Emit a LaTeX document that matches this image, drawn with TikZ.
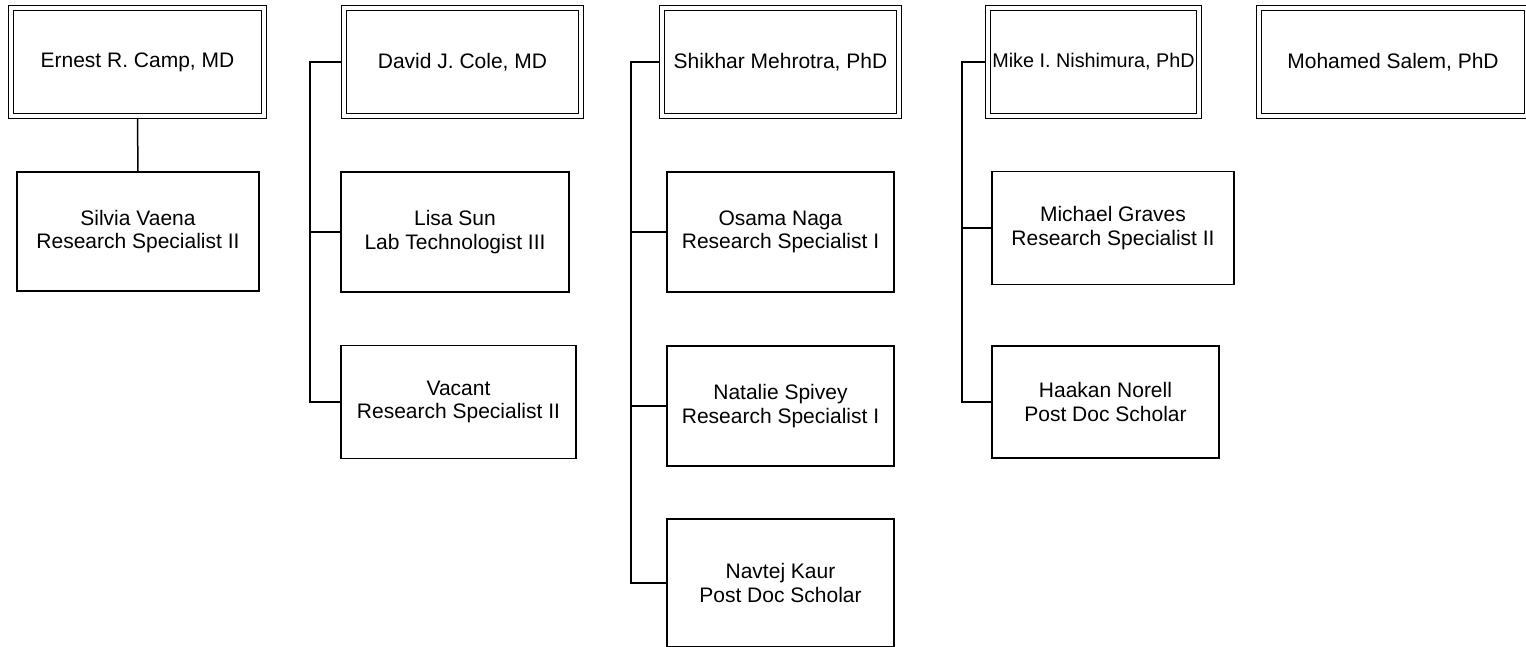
\documentclass[tikz,border=0pt]{standalone}
\usepackage{fontspec}
\setmainfont{Liberation Sans}
\usetikzlibrary{backgrounds}

\begin{document}
\begin{tikzpicture}
        [
            x=1pt,y=-1pt,
            head/.style={rectangle,draw=black,fill=white,line width=1.3pt,double,double distance=3.6pt,
                minimum height=108pt,inner sep=0pt,align=center,font=\fontsize{21}{23.5}\selectfont},
            staff/.style={rectangle,draw=black,fill=white,line width=1.7pt,
                inner sep=2pt,align=center,font=\fontsize{21}{23.5}\selectfont},
            link/.style={line width=1.5pt},
        ]
    \useasboundingbox (0,0) rectangle (1526,646);
    \clip (0,0) rectangle (1526,646);

    % heads
    \node[head,minimum width=253pt] (camp) at (137.5,62) {Ernest R. Camp, MD};
    \node[head,minimum width=237pt] (cole) at (462.5,62) {David J. Cole, MD};
    \node[head,minimum width=237pt] (mehrotra) at (780.5,62) {Shikhar Mehrotra, PhD};
    \node[head,minimum width=211pt,font=\fontsize{19.8}{23.5}\selectfont] (nishimura) at (1093.5,62) {Mike I. Nishimura, PhD};
    \node[head,minimum width=268pt] (salem) at (1393,62) {Mohamed Salem, PhD};

    % staff
    \node[staff,minimum width=242pt,minimum height=119pt] (vaena) at (138,231.5) {Silvia Vaena\\Research Specialist II};
    \node[staff,minimum width=228pt,minimum height=120pt] (sun) at (455,232) {Lisa Sun\\Lab Technologist III};
    \node[staff,minimum width=235pt,minimum height=113pt] (vacant) at (458.5,402) {Vacant\\Research Specialist II};
    \node[staff,minimum width=227pt,minimum height=120pt] (naga) at (780.5,232) {Osama Naga\\Research Specialist I};
    \node[staff,minimum width=227pt,minimum height=120pt] (spivey) at (780.5,406) {Natalie Spivey\\Research Specialist I};
    \node[staff,minimum width=227pt,minimum height=128pt] (kaur) at (780.5,583) {Navtej Kaur\\Post Doc Scholar};
    \node[staff,minimum width=242pt,minimum height=113pt] (graves) at (1113,228) {Michael Graves\\Research Specialist II};
    \node[staff,minimum width=227pt,minimum height=112pt] (norell) at (1105.5,402) {Haakan Norell\\Post Doc Scholar};

    \coordinate (colebus) at (310,62);
    \coordinate (mehrotrabus) at (631,62);
    \coordinate (nishimurabus) at (962,62);

    \begin{scope}[on background layer]
    \draw[link] (camp) -- (vaena);
    \draw[link] (cole.west) -- (colebus) |- (vacant.west);
    \draw[link] (colebus |- sun.west) -- (sun.west);
    \draw[link] (mehrotra.west) -- (mehrotrabus) |- (kaur.west);
    \draw[link] (mehrotrabus |- naga.west) -- (naga.west);
    \draw[link] (mehrotrabus |- spivey.west) -- (spivey.west);
    \draw[link] (nishimura.west) -- (nishimurabus) |- (norell.west);
    \draw[link] (nishimurabus |- graves.west) -- (graves.west);
    \end{scope}
\end{tikzpicture}
\end{document}
